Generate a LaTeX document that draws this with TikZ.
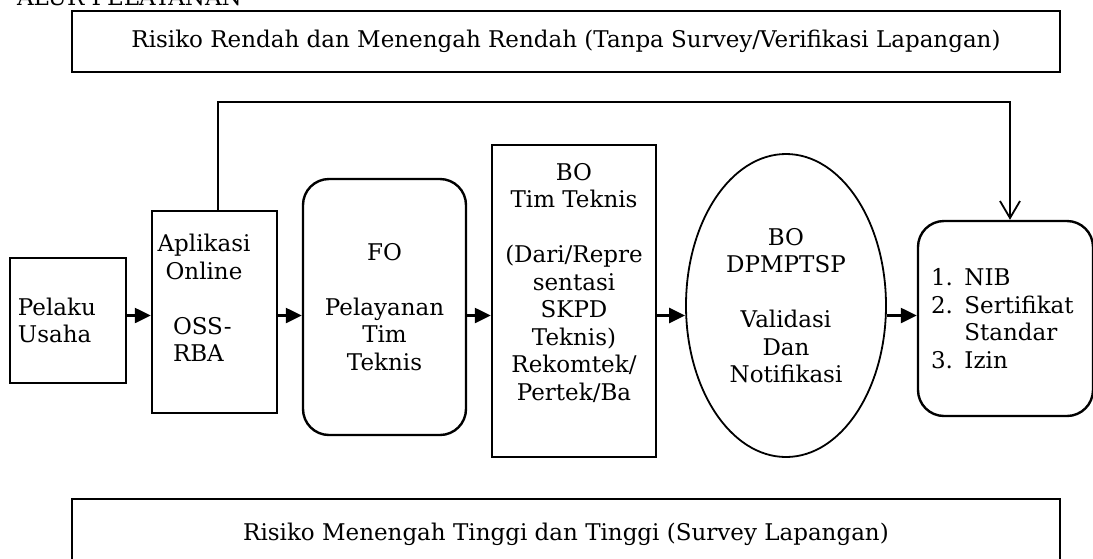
\documentclass[tikz,border=0pt]{standalone}
\usepackage{fontspec}
\setmainfont{DejaVu Serif}
\usetikzlibrary{arrows.meta,shapes.geometric}

\begin{document}
\begin{tikzpicture}[x=0.5pt,y=-0.5pt,
  every node/.style={font=\fontsize{11.5pt}{13.75pt}\selectfont},
  box/.style={draw=black,line width=1.2pt,inner sep=0pt},
  rbox/.style={box,rounded corners=13pt},
  riskbox/.style={draw=black,line width=0.9pt,minimum width=494pt},
  flow/.style={line width=1.2pt,-{Triangle[length=8pt,width=7.5pt]}},
  back/.style={line width=0.9pt,-{Straight Barb[length=8.5pt,width=10pt]}}]
\useasboundingbox (0,0) rectangle (1093,558);
\node[anchor=base west] (title) at (10,5) {ALUR PELAYANAN};
\node[riskbox,minimum height=30.5pt] (toprisk) at (566,41.5) {Risiko Rendah dan Menengah Rendah (Tanpa Survey/Verifikasi Lapangan)};
\node[riskbox,minimum height=35pt] (botrisk) at (566,534) {Risiko Menengah Tinggi dan Tinggi (Survey Lapangan)};
\node[box,minimum width=58pt,minimum height=62.5pt,text width=50pt,align=left] (pelaku) at (68,320.5) {Pelaku\\Usaha};
\node[box,minimum width=62.5pt,minimum height=101pt] (oss) at (214.5,312) {};
\node[align=center] (oss-t) at (204,298) {Aplikasi\\Online\\[13.75pt]\makebox[31pt][l]{OSS-}\\\makebox[31pt][l]{RBA}};
\node[rbox,minimum width=81.5pt,minimum height=128pt,align=center] (fo) at (384.5,307) {FO\\[13.75pt]Pelayanan\\Tim\\Teknis};
\node[box,minimum width=82pt,minimum height=156pt] (botim) at (574,301) {};
\node[align=center] (botim-t) at (574,283) {BO\\Tim Teknis\\[13.75pt](Dari/Repre\\sentasi\\SKPD\\Teknis)\\Rekomtek/\\Pertek/Ba};
\node[ellipse,draw=black,line width=0.9pt,minimum width=100pt,minimum height=151.5pt,inner sep=0pt,align=center] (bodpm) at (786,305.5) {BO\\DPMPTSP\\[13.75pt]Validasi\\Dan\\Notifikasi};
\node[rbox,minimum width=87.5pt,minimum height=97.5pt,text width=74.5pt,align=left] (result) at (1005.5,318.5) {1. NIB\\2. Sertifikat\\\phantom{2. }Standar\\3. Izin};
\coordinate (mid) at (0,315.5);
\draw[flow] (pelaku.east |- mid) -- (oss.west |- mid);
\draw[flow] (oss.east |- mid) -- (fo.west |- mid);
\draw[flow] (fo.east |- mid) -- (botim.west |- mid);
\draw[flow] (botim.east |- mid) -- (bodpm.west |- mid);
\draw[flow] (bodpm.east |- mid) -- (result.west |- mid);
\coordinate (fbl) at (218,102);
\coordinate (fbr) at (1010,102);
\draw[back] (oss.north -| fbl) -- (fbl) -- (fbr) -- (fbr |- result.north);
\end{tikzpicture}
\end{document}
